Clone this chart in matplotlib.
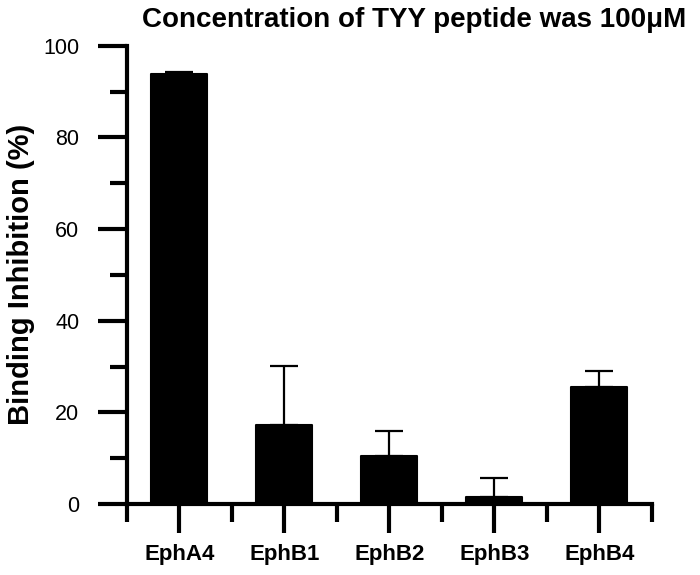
import matplotlib.pyplot as plt
import numpy as np

plt.rcParams['font.family'] = ['Liberation Sans', 'DejaVu Sans']

# data
receptors = ['EphA4', 'EphB1', 'EphB2', 'EphB3', 'EphB4']
inhibition = [93.8, 17.2, 10.5, 1.5, 25.5]
err_up = [0.4, 12.9, 5.5, 4.2, 3.5]

fig = plt.figure(figsize=(7, 5.75), dpi=100)
ax = fig.add_axes([0.181, 0.1235, 0.75, 0.797])

x = np.arange(len(receptors))
ax.bar(x, inhibition, width=0.53, color='black', edgecolor='black',
       linewidth=1.5, joinstyle='round', zorder=2)
ax.errorbar(x, inhibition, yerr=[np.zeros(len(x)), err_up], fmt='none',
            ecolor='black', elinewidth=1.6, capsize=10, capthick=1.6, zorder=1)

ax.set_xlim(-0.5, 4.5)
ax.set_ylim(0, 100)

for s in ['top', 'right']:
    ax.spines[s].set_visible(False)
for s in ['left', 'bottom']:
    ax.spines[s].set_linewidth(3)
    ax.spines[s].set_zorder(3)

ax.set_yticks(np.arange(0, 101, 20))
ax.set_yticks(np.arange(10, 100, 20), minor=True)
ax.set_xticks(x)
ax.set_xticklabels(receptors, fontweight='bold', fontsize=16)
ax.set_xticks(np.arange(-0.5, 4.6, 1), minor=True)

ax.tick_params(axis='y', which='major', length=21, width=3, labelsize=15.5, pad=13)
ax.tick_params(axis='y', which='minor', length=12, width=3)
ax.tick_params(axis='x', which='major', length=21, width=3, pad=8)
ax.tick_params(axis='x', which='minor', length=13, width=3)

ax.set_ylabel('Binding Inhibition (%)', fontsize=21, fontweight='bold', labelpad=6)
fig.text(0.591, 0.966, 'Concentration of TYY peptide was 100\u03bcM',
         ha='center', va='center', fontsize=20, fontweight='bold')

fig.savefig('out.png', dpi=100)
